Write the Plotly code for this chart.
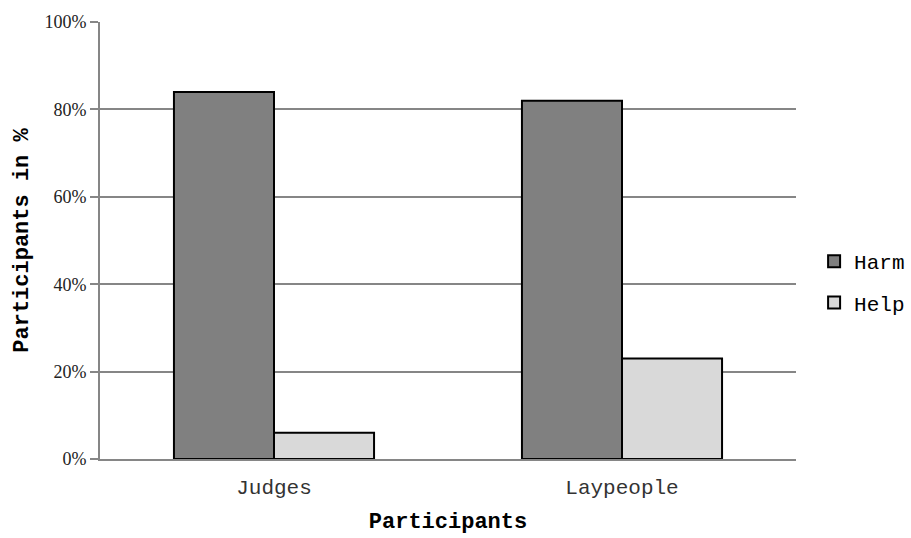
import plotly.graph_objects as go

categories = ["Judges", "Laypeople"]
harm = [84, 82]
help_ = [6, 23]
y_ticks = [0, 20, 40, 60, 80, 100]
y_tick_labels = ["0%", "20%", "40%", "60%", "80%", "100%"]

mono = "Liberation Mono, Courier New, monospace"
serif = "Liberation Serif, Times New Roman, serif"

fig = go.Figure()
fig.add_trace(go.Bar(name="Harm", x=categories, y=harm, legendgroup="harm",
                     marker=dict(color="#808080", line=dict(color="black", width=2))))
fig.add_trace(go.Bar(name="Help", x=categories, y=help_, legendgroup="help",
                     marker=dict(color="#d9d9d9", line=dict(color="black", width=2))))

fig.update_layout(
    width=911, height=538,
    margin=dict(l=100, r=115, t=22, b=79, autoexpand=False),
    paper_bgcolor="white", plot_bgcolor="white",
    barmode="group", bargap=0.425, bargroupgap=0,
    showlegend=True,
    legend=dict(x=1.026, y=0.405, xanchor="left", yanchor="middle",
                font=dict(family=mono, size=21, color="black"),
                tracegroupgap=11, itemsizing="constant", bgcolor="rgba(0,0,0,0)"),
    xaxis=dict(
        title=dict(text="<b>Participants</b>", font=dict(family=mono, size=22, color="black"), standoff=13),
        tickfont=dict(family=mono, size=21, color="#333"),
        ticklabelstandoff=8,
        showline=True, linecolor="#868686", linewidth=2,
        showgrid=False, ticks="", automargin=False,
    ),
    yaxis=dict(
        title=dict(text="<b>Participants in %</b>", font=dict(family=mono, size=22, color="black"), standoff=10),
        range=[0, 100], tickvals=y_ticks, ticktext=y_tick_labels,
        tickfont=dict(family=serif, size=18, color="#222"),
        showgrid=True, gridcolor="#868686", gridwidth=2,
        showline=True, linecolor="#868686", linewidth=2,
        ticks="outside", ticklen=8, tickcolor="#868686", tickwidth=2,
        zeroline=False, automargin=False,
    ),
)

fig.write_html("out.html", config={"displayModeBar": False},
               post_script="document.body.style.margin='0';")
